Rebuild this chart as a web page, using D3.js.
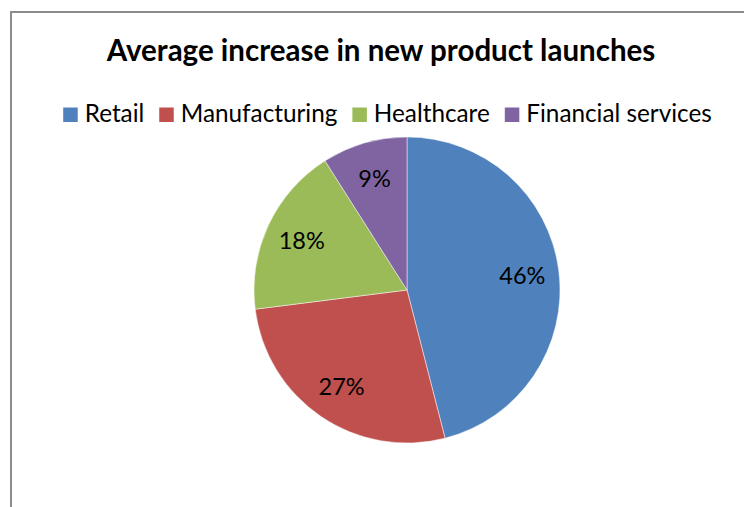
<!DOCTYPE html>
<html>
<head>
<meta charset="utf-8">
<script src="https://cdn.jsdelivr.net/npm/d3@7"></script>
<style>
  html, body { margin: 0; padding: 0; background: #fff; }
  svg { display: block; font-family: Lato, "Open Sans", sans-serif; }
</style>
</head>
<body>
<svg id="chart" width="744" height="507"></svg>
<script>
// Share of the average increase in new product launches, by sector
const title = "Average increase in new product launches";
const categories = ["Retail", "Manufacturing", "Healthcare", "Financial services"];
const values = [46, 27, 18, 9];
const colors = ["#4F81BD", "#C0504D", "#9BBB59", "#8064A2"];

const svg = d3.select("#chart");
const W = 744, H = 507;

// Chart frame (runs off the right and bottom edges)
svg.append("rect")
  .attr("x", 11).attr("y", 12)
  .attr("width", W + 20).attr("height", H + 20)
  .attr("fill", "#fff")
  .attr("stroke", "#8c8c8c")
  .attr("stroke-width", 2);

// Title
svg.append("text")
  .attr("x", 381).attr("y", 61)
  .attr("text-anchor", "middle")
  .attr("font-size", 29.5)
  .attr("font-weight", "bold")
  .attr("fill", "#000")
  .text(title);

// Legend, laid out left to right and centred
const color = d3.scaleOrdinal().domain(categories).range(colors);
const legendFont = 24.3, sw = 14.5, textGap = 7, itemGap = 15, legendY = 122;
const legend = svg.append("g");
let x = 0;
categories.forEach(c => {
  const g = legend.append("g").attr("transform", `translate(${x},0)`);
  g.append("rect")
    .attr("x", 0).attr("y", legendY - sw)
    .attr("width", sw).attr("height", sw)
    .attr("fill", color(c));
  const t = g.append("text")
    .attr("x", sw + textGap).attr("y", legendY)
    .attr("font-size", legendFont)
    .attr("fill", "#000")
    .text(c);
  x += sw + textGap + t.node().getComputedTextLength() + itemGap;
});
const legendW = x - itemGap;
legend.attr("transform", `translate(${387.5 - legendW / 2},0)`);

// Pie
const cx = 407, cy = 290, r = 153;
const pie = d3.pie().sort(null).value(d => d.v);
const data = pie(categories.map((c, i) => ({ c, v: values[i] })));
const arc = d3.arc().innerRadius(0).outerRadius(r);
const labelArc = d3.arc().innerRadius(r * 0.76).outerRadius(r * 0.76);
const total = d3.sum(values);

const g = svg.append("g").attr("transform", `translate(${cx},${cy})`);
g.selectAll("path.slice")
  .data(data)
  .join("path")
  .attr("class", "slice")
  .attr("d", arc)
  .attr("fill", d => color(d.data.c))
  .attr("stroke", "#ffffff")
  .attr("stroke-opacity", 0.6)
  .attr("stroke-width", 0.8);

g.selectAll("text.pct")
  .data(data)
  .join("text")
  .attr("class", "pct")
  .attr("transform", d => `translate(${labelArc.centroid(d)})`)
  .attr("text-anchor", "middle")
  .attr("dy", "0.36em")
  .attr("font-size", 23.5)
  .attr("fill", "#000")
  .text(d => Math.round(d.data.v / total * 100) + "%");
</script>
</body>
</html>
